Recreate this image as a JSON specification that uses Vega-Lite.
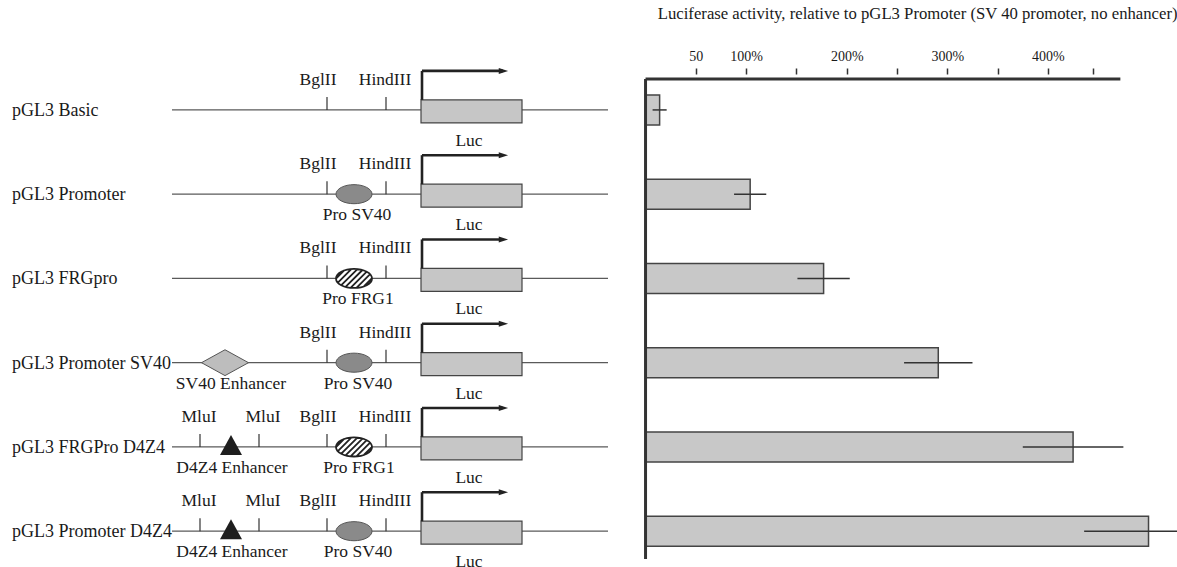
{
  "$schema": "https://vega.github.io/schema/vega-lite/v6.json",
  "width": 1177,
  "height": 567,
  "autosize": {"type": "fit", "contains": "padding"},
  "padding": {"left": 0, "right": 0, "top": 5, "bottom": 0},
  "background": "white",
  "config": {"view": {"stroke": null}, "font": "Liberation Serif", "text": {"font": "Liberation Serif", "color": "#1a1a1a", "fontSize": 17.5}},
  "datasets": {
    "constructs": [
      {"row": 1, "construct": "pGL3 Basic", "activity": 14, "err": 7, "labelPos": 12, "lineStart": 172, "lineEnd": 608, "lucStart": 421, "lucEnd": 522, "lucLabelPos": 469, "reporter": "Luc", "tss": 422, "arrowEnd": 503},
      {"row": 2, "construct": "pGL3 Promoter", "activity": 104, "err": 16, "labelPos": 12, "lineStart": 172, "lineEnd": 608, "lucStart": 421, "lucEnd": 522, "lucLabelPos": 469, "reporter": "Luc", "tss": 422, "arrowEnd": 503},
      {"row": 3, "construct": "pGL3 FRGpro", "activity": 177, "err": 26, "labelPos": 12, "lineStart": 172, "lineEnd": 608, "lucStart": 421, "lucEnd": 522, "lucLabelPos": 469, "reporter": "Luc", "tss": 422, "arrowEnd": 503},
      {"row": 4, "construct": "pGL3 Promoter SV40", "activity": 291, "err": 34, "labelPos": 12, "lineStart": 172, "lineEnd": 608, "lucStart": 421, "lucEnd": 522, "lucLabelPos": 469, "reporter": "Luc", "tss": 422, "arrowEnd": 503},
      {"row": 5, "construct": "pGL3 FRGPro D4Z4", "activity": 425, "err": 50, "labelPos": 12, "lineStart": 172, "lineEnd": 608, "lucStart": 421, "lucEnd": 522, "lucLabelPos": 469, "reporter": "Luc", "tss": 422, "arrowEnd": 503},
      {"row": 6, "construct": "pGL3 Promoter D4Z4", "activity": 500, "err": 64, "labelPos": 12, "lineStart": 172, "lineEnd": 608, "lucStart": 421, "lucEnd": 522, "lucLabelPos": 469, "reporter": "Luc", "tss": 422, "arrowEnd": 503}
    ],
    "sites": [
      {"row": 1, "site": "BglII", "pos": 327, "labelPos": 318},
      {"row": 1, "site": "HindIII", "pos": 386, "labelPos": 385},
      {"row": 2, "site": "BglII", "pos": 327, "labelPos": 318},
      {"row": 2, "site": "HindIII", "pos": 386, "labelPos": 385},
      {"row": 3, "site": "BglII", "pos": 327, "labelPos": 318},
      {"row": 3, "site": "HindIII", "pos": 386, "labelPos": 385},
      {"row": 4, "site": "BglII", "pos": 327, "labelPos": 318},
      {"row": 4, "site": "HindIII", "pos": 386, "labelPos": 385},
      {"row": 5, "site": "MluI", "pos": 200, "labelPos": 199},
      {"row": 5, "site": "MluI", "pos": 259, "labelPos": 263},
      {"row": 5, "site": "BglII", "pos": 327, "labelPos": 318},
      {"row": 5, "site": "HindIII", "pos": 386, "labelPos": 385},
      {"row": 6, "site": "MluI", "pos": 200, "labelPos": 199},
      {"row": 6, "site": "MluI", "pos": 259, "labelPos": 263},
      {"row": 6, "site": "BglII", "pos": 327, "labelPos": 318},
      {"row": 6, "site": "HindIII", "pos": 386, "labelPos": 385}
    ],
    "elements": [
      {"row": 2, "kind": "SV40 promoter", "pos": 354, "label": "Pro SV40", "labelPos": 357},
      {"row": 3, "kind": "FRG1 promoter", "pos": 354, "label": "Pro FRG1", "labelPos": 358},
      {"row": 4, "kind": "SV40 enhancer", "pos": 225, "label": "SV40 Enhancer", "labelPos": 231},
      {"row": 4, "kind": "SV40 promoter", "pos": 354, "label": "Pro SV40", "labelPos": 358},
      {"row": 5, "kind": "D4Z4 enhancer", "pos": 231, "label": "D4Z4 Enhancer", "labelPos": 232},
      {"row": 5, "kind": "FRG1 promoter", "pos": 354, "label": "Pro FRG1", "labelPos": 359},
      {"row": 6, "kind": "D4Z4 enhancer", "pos": 231, "label": "D4Z4 Enhancer", "labelPos": 232},
      {"row": 6, "kind": "SV40 promoter", "pos": 354, "label": "Pro SV40", "labelPos": 358}
    ],
    "frame": [{"axisStart": 0, "axisEnd": 472, "top": 0.633, "bottom": 6.33}]
  },
  "encoding": {
    "y": {"field": "row", "type": "quantitative", "scale": {"domain": [0.633, 6.33], "reverse": true, "nice": false, "zero": false}, "axis": null}
  },
  "layer": [
    {
      "layer": [
        {
          "data": {"name": "constructs"},
          "mark": {"type": "bar", "orient": "horizontal", "size": 30, "fill": "#c8c8c8", "stroke": "#444", "strokeWidth": 1.5},
          "encoding": {
            "x": {
              "field": "activity", "type": "quantitative",
              "scale": {"domain": [-641.7, 528.3], "nice": false, "zero": false},
              "axis": {
                "orient": "top",
                "values": [50, 100, 150, 200, 250, 300, 350, 400, 445],
                "labelExpr": "datum.value == 50 ? '50' : (datum.value % 100 == 0 ? datum.value + '%' : '')",
                "domain": false, "grid": false,
                "tickSize": 6, "tickWidth": 1.5, "tickColor": "#333",
                "labelFont": "Liberation Serif", "labelFontSize": 14, "labelColor": "#1a1a1a", "labelPadding": 5,
                "labelFlush": false, "labelOverlap": false,
                "title": "Luciferase activity, relative to pGL3 Promoter (SV 40 promoter, no enhancer)",
                "titleFont": "Liberation Serif", "titleFontSize": 16.7, "titleFontWeight": "normal", "titleColor": "#1a1a1a",
                "titleAnchor": "end", "titlePadding": 27
              }
            }
          }
        },
        {
          "data": {"name": "constructs"},
          "mark": {"type": "errorbar", "color": "#333", "thickness": 1.5, "clip": true},
          "encoding": {
            "x": {"field": "activity", "type": "quantitative", "scale": {"domain": [-641.7, 528.3], "nice": false, "zero": false}, "title": "Luciferase activity, relative to pGL3 Promoter (SV 40 promoter, no enhancer)"},
            "xError": {"field": "err"}
          }
        },
        {
          "data": {"name": "frame"},
          "mark": {"type": "rule", "color": "#333", "strokeWidth": 3},
          "encoding": {
            "x": {"field": "axisStart", "type": "quantitative", "scale": {"domain": [-641.7, 528.3], "nice": false, "zero": false}, "title": "Luciferase activity, relative to pGL3 Promoter (SV 40 promoter, no enhancer)"},
            "y": {"field": "top", "type": "quantitative"},
            "y2": {"field": "bottom"}
          }
        },
        {
          "data": {"name": "frame"},
          "mark": {"type": "rule", "color": "#333", "strokeWidth": 3},
          "encoding": {
            "x": {"field": "axisStart", "type": "quantitative", "scale": {"domain": [-641.7, 528.3], "nice": false, "zero": false}, "title": "Luciferase activity, relative to pGL3 Promoter (SV 40 promoter, no enhancer)"},
            "x2": {"field": "axisEnd"},
            "y": {"field": "top", "type": "quantitative"}
          }
        }
      ]
    },
    {
      "layer": [
        {
          "data": {"name": "constructs"},
          "mark": {"type": "rule", "color": "#5a5a5a", "strokeWidth": 1.3},
          "encoding": {
            "x": {"field": "lineStart", "type": "quantitative", "scale": {"domain": [0, 1177], "nice": false, "zero": false}, "axis": null},
            "x2": {"field": "lineEnd"}
          }
        },
        {
          "data": {"name": "constructs"},
          "mark": {"type": "text", "align": "left", "baseline": "middle", "fontSize": 18, "dy": 1},
          "encoding": {
            "x": {"field": "labelPos", "type": "quantitative", "scale": {"domain": [0, 1177], "nice": false, "zero": false}, "axis": null},
            "text": {"field": "construct"}
          }
        },
        {
          "data": {"name": "sites"},
          "mark": {"type": "rule", "color": "#333", "strokeWidth": 1.2, "yOffset": -13},
          "encoding": {
            "x": {"field": "pos", "type": "quantitative", "scale": {"domain": [0, 1177], "nice": false, "zero": false}, "axis": null},
            "y2": {"field": "row"}
          }
        },
        {
          "data": {"name": "sites"},
          "mark": {"type": "text", "align": "center", "baseline": "middle", "dy": -30},
          "encoding": {
            "x": {"field": "labelPos", "type": "quantitative", "scale": {"domain": [0, 1177], "nice": false, "zero": false}, "axis": null},
            "text": {"field": "site"}
          }
        },
        {
          "data": {"name": "constructs"},
          "mark": {"type": "rect", "fill": "#c6c6c6", "stroke": "#444", "strokeWidth": 1.2, "yOffset": -10, "y2Offset": 13},
          "encoding": {
            "x": {"field": "lucStart", "type": "quantitative", "scale": {"domain": [0, 1177], "nice": false, "zero": false}, "axis": null},
            "x2": {"field": "lucEnd"},
            "y2": {"field": "row"}
          }
        },
        {
          "data": {"name": "constructs"},
          "mark": {"type": "rule", "color": "#222", "strokeWidth": 2.6, "yOffset": -39, "y2Offset": -10},
          "encoding": {
            "x": {"field": "tss", "type": "quantitative", "scale": {"domain": [0, 1177], "nice": false, "zero": false}, "axis": null},
            "y2": {"field": "row"}
          }
        },
        {
          "data": {"name": "constructs"},
          "mark": {"type": "rule", "color": "#222", "strokeWidth": 2.6, "yOffset": -39, "y2Offset": -39},
          "encoding": {
            "x": {"field": "tss", "type": "quantitative", "scale": {"domain": [0, 1177], "nice": false, "zero": false}, "axis": null},
            "x2": {"field": "arrowEnd"},
            "y2": {"field": "row"}
          }
        },
        {
          "data": {"name": "constructs"},
          "mark": {"type": "point", "shape": "M-1,-0.7 L1.2,0 L-1,0.7 Z", "size": 72, "filled": true, "opacity": 1, "color": "#222", "yOffset": -39},
          "encoding": {
            "x": {"field": "arrowEnd", "type": "quantitative", "scale": {"domain": [0, 1177], "nice": false, "zero": false}, "axis": null}
          }
        },
        {
          "data": {"name": "constructs"},
          "mark": {"type": "text", "align": "center", "baseline": "middle", "dy": 31},
          "encoding": {
            "x": {"field": "lucLabelPos", "type": "quantitative", "scale": {"domain": [0, 1177], "nice": false, "zero": false}, "axis": null},
            "text": {"field": "reporter"}
          }
        },
        {
          "data": {"name": "elements"},
          "transform": [{"filter": "datum.kind == 'SV40 promoter'"}],
          "mark": {"type": "point", "shape": "M-1,0 A1,0.53 0 1,0 1,0 A1,0.53 0 1,0 -1,0 Z", "size": 1296, "filled": true, "opacity": 1, "fill": "#8a8a8a", "stroke": "#555", "strokeWidth": 1},
          "encoding": {
            "x": {"field": "pos", "type": "quantitative", "scale": {"domain": [0, 1177], "nice": false, "zero": false}, "axis": null}
          }
        },
        {
          "data": {"name": "elements"},
          "transform": [{"filter": "datum.kind == 'FRG1 promoter'"}],
          "mark": {"type": "point", "shape": "M-1,0 A1,0.53 0 1,0 1,0 A1,0.53 0 1,0 -1,0 Z M-0.5459,-0.4441 L-0.9998,0.0098 M-0.1348,-0.5252 L-0.8957,0.2357 M0.1903,-0.5203 L-0.7056,0.3756 M0.4683,-0.4683 L-0.4683,0.4683 M0.7056,-0.3756 L-0.1903,0.5203 M0.8957,-0.2357 L0.1348,0.5252 M0.9998,-0.0098 L0.5459,0.4441", "size": 1296, "filled": true, "opacity": 1, "fill": "white", "stroke": "#222", "strokeWidth": 1.8},
          "encoding": {
            "x": {"field": "pos", "type": "quantitative", "scale": {"domain": [0, 1177], "nice": false, "zero": false}, "axis": null}
          }
        },
        {
          "data": {"name": "elements"},
          "transform": [{"filter": "datum.kind == 'SV40 enhancer'"}],
          "mark": {"type": "point", "shape": "M-1,0 L0,-0.55 L1,0 L0,0.55 Z", "size": 2209, "filled": true, "opacity": 1, "fill": "#bdbdbd", "stroke": "#555", "strokeWidth": 1},
          "encoding": {
            "x": {"field": "pos", "type": "quantitative", "scale": {"domain": [0, 1177], "nice": false, "zero": false}, "axis": null}
          }
        },
        {
          "data": {"name": "elements"},
          "transform": [{"filter": "datum.kind == 'D4Z4 enhancer'"}],
          "mark": {"type": "point", "shape": "M-1,0.91 L0,-0.91 L1,0.91 Z", "size": 484, "filled": true, "opacity": 1, "color": "#1e1e1e", "yOffset": -2},
          "encoding": {
            "x": {"field": "pos", "type": "quantitative", "scale": {"domain": [0, 1177], "nice": false, "zero": false}, "axis": null}
          }
        },
        {
          "data": {"name": "elements"},
          "mark": {"type": "text", "align": "center", "baseline": "middle", "dy": 21},
          "encoding": {
            "x": {"field": "labelPos", "type": "quantitative", "scale": {"domain": [0, 1177], "nice": false, "zero": false}, "axis": null},
            "text": {"field": "label"}
          }
        }
      ]
    }
  ],
  "resolve": {"scale": {"x": "independent"}, "axis": {"x": "independent"}}
}
